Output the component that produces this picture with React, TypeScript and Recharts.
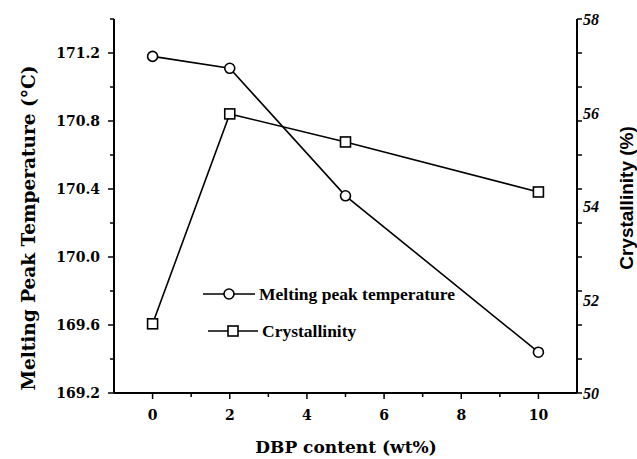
import React from "react";
import { LineChart, Line, XAxis, YAxis } from "recharts";

// DBP content (wt%)
const dbp = [0, 2, 5, 10];
// melting peak temperature (°C), left axis
const meltingPeak = [171.18, 171.11, 170.36, 169.44];
// crystallinity (%), right axis
const crystallinity = [51.48, 55.97, 55.37, 54.3];

const xTicks = [0, 1, 2, 3, 4, 5, 6, 7, 8, 9, 10];
const leftTicks = [169.2, 169.4, 169.6, 169.8, 170.0, 170.2, 170.4, 170.6, 170.8, 171.0, 171.2, 171.4];
const rightTicks = [50, 52, 54, 56, 58];

const data = dbp.map((x, i) => ({
  x,
  melting: meltingPeak[i],
  crys: crystallinity[i],
}));

const serif = "'DejaVu Serif', serif";
const M = { top: 19, right: 58, bottom: 36, left: 54 };
const W = 637;
const H = 459;
const RIGHT_AXIS_X = W - M.right - 2; // the right axis sits at the plot's right edge

function LeftTick(props: any) {
  const { x, y, payload, index } = props;
  const ax = x + 14;
  const major = index % 2 === 0;
  return (
    <g>
      <line x1={ax} x2={ax - (major ? 6 : 4)} y1={y} y2={y} stroke="#000" strokeWidth={1.5} />
      {/* the original plot repeats these tick marks on the right axis */}
      <line x1={RIGHT_AXIS_X} x2={RIGHT_AXIS_X + 5} y1={y} y2={y} stroke="#000" strokeWidth={1.5} />
      {major && (
        <text x={x} y={y} dy={5} textAnchor="end" fontFamily={serif} fontWeight="bold" fontSize={14} fill="#000">
          {payload.value.toFixed(1)}
        </text>
      )}
    </g>
  );
}

function BottomTick(props: any) {
  const { x, y, payload } = props;
  const ay = y - 14;
  const major = payload.value % 2 === 0;
  return (
    <g>
      <line x1={x} x2={x} y1={ay} y2={ay + (major ? 6 : 4)} stroke="#000" strokeWidth={1.5} />
      {major && (
        <text x={x} y={y} dy={13} textAnchor="middle" fontFamily={serif} fontWeight="bold" fontSize={14} fill="#000">
          {payload.value}
        </text>
      )}
    </g>
  );
}

function RightLabel(props: any) {
  const { x, y, payload } = props;
  return (
    <text x={x + 6} y={y} dy={6} textAnchor="start" fontFamily="'Liberation Serif', serif" fontStyle="italic" fontWeight="bold" fontSize={16} fill="#000">
      {payload.value}
    </text>
  );
}

function SquareDot(props: any) {
  const { cx, cy, index } = props;
  if (cx == null || cy == null) return null;
  return <rect key={`sq-${index}`} x={cx - 5} y={cy - 5} width={10} height={10} fill="#fff" stroke="#000" strokeWidth={1.6} />;
}

const legendText: React.CSSProperties = {
  fontFamily: "'Liberation Serif', serif",
  fontWeight: "bold",
  fontSize: 17.5,
  marginLeft: 4,
};

export default function App() {
  return (
    <div style={{ position: "fixed", left: 0, top: 0, width: W, height: H, overflow: "hidden", background: "#fff" }}>
      <LineChart width={W} height={H} data={data} margin={M}>
        <XAxis
          xAxisId="x"
          dataKey="x"
          type="number"
          domain={[-1, 11]}
          ticks={xTicks}
          interval={0}
          tickLine={false}
          tickSize={6}
          tickMargin={8}
          tick={<BottomTick />}
          height={30}
          axisLine={{ stroke: "#000", strokeWidth: 2 }}
        />
        <XAxis
          xAxisId="top"
          dataKey="x"
          type="number"
          orientation="top"
          domain={[-1, 11]}
          tick={false}
          tickLine={false}
          height={0}
          axisLine={{ stroke: "#000", strokeWidth: 2 }}
        />
        <YAxis
          yAxisId="left"
          type="number"
          domain={[169.2, 171.4]}
          ticks={leftTicks}
          interval={0}
          tickLine={false}
          tickSize={6}
          tickMargin={8}
          tick={<LeftTick />}
          width={60}
          axisLine={{ stroke: "#000", strokeWidth: 2 }}
        />
        <YAxis
          yAxisId="right"
          orientation="right"
          type="number"
          domain={[50, 58]}
          ticks={rightTicks}
          interval={0}
          tickLine={false}
          tickSize={0}
          tickMargin={0}
          tick={<RightLabel />}
          width={2}
          axisLine={{ stroke: "#000", strokeWidth: 2 }}
        />
        <Line
          xAxisId="x"
          yAxisId="left"
          dataKey="melting"
          stroke="#000"
          strokeWidth={1.6}
          dot={{ r: 5, fill: "#fff", stroke: "#000", strokeWidth: 1.6 }}
          isAnimationActive={false}
        />
        <Line
          xAxisId="x"
          yAxisId="right"
          dataKey="crys"
          stroke="#000"
          strokeWidth={1.6}
          dot={<SquareDot />}
          isAnimationActive={false}
        />
      </LineChart>

      {/* legend */}
      <div style={{ position: "absolute", left: 203, top: 284, lineHeight: "20px" }}>
        <div style={{ display: "flex", alignItems: "center", height: 20 }}>
          <svg width={52} height={14}>
            <line x1={0} x2={52} y1={7} y2={7} stroke="#000" strokeWidth={1.6} />
            <circle cx={26} cy={7} r={5} fill="#fff" stroke="#000" strokeWidth={1.6} />
          </svg>
          <span style={legendText}>Melting peak temperature</span>
        </div>
        <div style={{ display: "flex", alignItems: "center", height: 20, marginTop: 17, marginLeft: 5 }}>
          <svg width={50} height={14}>
            <line x1={0} x2={50} y1={7} y2={7} stroke="#000" strokeWidth={1.6} />
            <rect x={20} y={2} width={10} height={10} fill="#fff" stroke="#000" strokeWidth={1.6} />
          </svg>
          <span style={legendText}>Crystallinity</span>
        </div>
      </div>

      {/* axis titles */}
      <div
        style={{
          position: "absolute",
          left: 28,
          top: 228,
          transform: "translate(-50%, -50%) rotate(-90deg)",
          whiteSpace: "nowrap",
          fontFamily: serif,
          fontWeight: "bold",
          fontSize: 18.5,
        }}
      >
        Melting Peak Temperature (°C)
      </div>
      <div
        style={{
          position: "absolute",
          left: 627,
          top: 198,
          transform: "translate(-50%, -50%) rotate(-90deg)",
          whiteSpace: "nowrap",
          fontFamily: "'Liberation Sans', sans-serif",
          fontWeight: "bold",
          fontSize: 19,
        }}
      >
        Crystallinity (%)
      </div>
      <div
        style={{
          position: "absolute",
          left: 346,
          top: 447,
          transform: "translate(-50%, -50%)",
          whiteSpace: "nowrap",
          fontFamily: serif,
          fontWeight: "bold",
          fontSize: 17,
        }}
      >
        DBP content (wt%)
      </div>
    </div>
  );
}
